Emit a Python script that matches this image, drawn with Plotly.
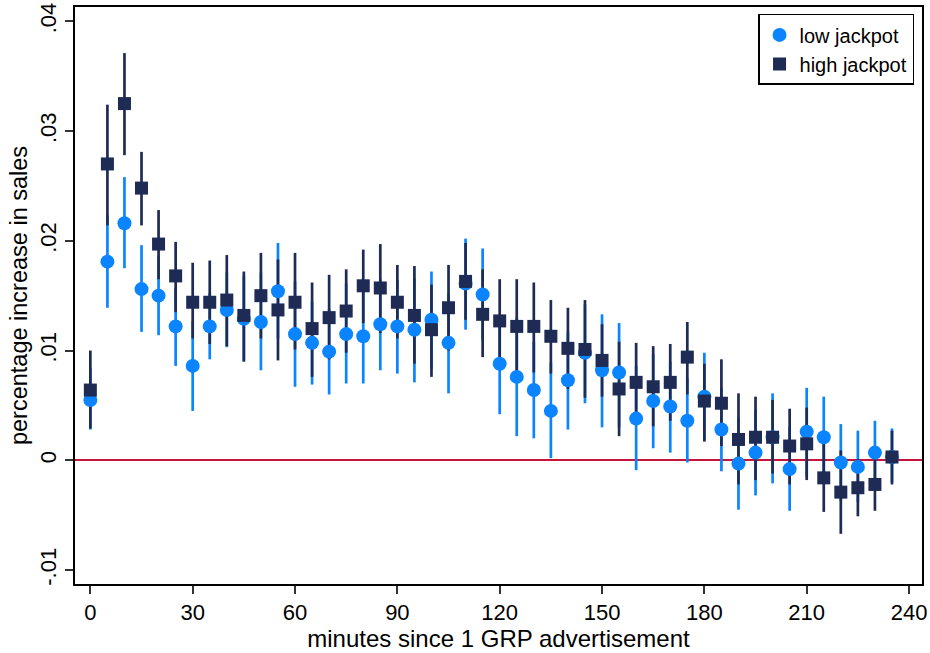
import plotly.graph_objects as go

# Minutes since a 1 GRP TV advertisement
minutes = [0, 5, 10, 15, 20, 25, 30, 35, 40, 45, 50, 55, 60, 65, 70, 75,
           80, 85, 90, 95, 100, 105, 110, 115, 120, 125, 130, 135, 140, 145, 150, 155,
           160, 165, 170, 175, 180, 185, 190, 195, 200, 205, 210, 215, 220, 225, 230, 235]

# Low-jackpot draws: point estimate and 95% confidence bounds
low_est = [0.0055, 0.0181, 0.0216, 0.0156, 0.0150, 0.0122, 0.0086, 0.0122,
           0.0137, 0.0129, 0.0126, 0.0154, 0.0115, 0.0107, 0.0099, 0.0115,
           0.0113, 0.0124, 0.0122, 0.0119, 0.0128, 0.0107, 0.0161, 0.0151,
           0.0088, 0.0076, 0.0064, 0.0045, 0.0073, 0.0098, 0.0082, 0.0080,
           0.0038, 0.0054, 0.0049, 0.0036, 0.0058, 0.0028, -0.0003, 0.0007,
           0.0021, -0.0008, 0.0026, 0.0021, -0.0002, -0.0006, 0.0007, 0.0003]
low_lo = [0.0028, 0.0139, 0.0175, 0.0117, 0.0114, 0.0086, 0.0045, 0.0092,
          0.0103, 0.0090, 0.0082, 0.0111, 0.0067, 0.0069, 0.0060, 0.0070,
          0.0070, 0.0082, 0.0079, 0.0071, 0.0083, 0.0061, 0.0119, 0.0109,
          0.0042, 0.0022, 0.0020, 0.0002, 0.0028, 0.0052, 0.0030, 0.0030,
          -0.0009, 0.0011, 0.0007, -0.0002, 0.0018, -0.0010, -0.0045, -0.0032,
          -0.0021, -0.0046, -0.0015, -0.0016, -0.0037, -0.0038, -0.0022, -0.0020]
low_hi = [0.0084, 0.0223, 0.0258, 0.0196, 0.0186, 0.0157, 0.0127, 0.0152,
          0.0171, 0.0168, 0.0171, 0.0198, 0.0163, 0.0144, 0.0138, 0.0161,
          0.0156, 0.0165, 0.0164, 0.0166, 0.0172, 0.0152, 0.0202, 0.0193,
          0.0132, 0.0130, 0.0108, 0.0089, 0.0117, 0.0142, 0.0133, 0.0125,
          0.0086, 0.0097, 0.0090, 0.0075, 0.0098, 0.0066, 0.0039, 0.0046,
          0.0061, 0.0031, 0.0066, 0.0058, 0.0033, 0.0027, 0.0036, 0.0029]

# High-jackpot draws: point estimate and 95% confidence bounds
high_est = [0.0064, 0.0270, 0.0325, 0.0248, 0.0197, 0.0168, 0.0144, 0.0144,
            0.0146, 0.0132, 0.0150, 0.0137, 0.0144, 0.0120, 0.0130, 0.0136,
            0.0159, 0.0157, 0.0144, 0.0132, 0.0119, 0.0139, 0.0163, 0.0133,
            0.0127, 0.0122, 0.0122, 0.0113, 0.0102, 0.0101, 0.0091, 0.0065,
            0.0071, 0.0067, 0.0071, 0.0094, 0.0054, 0.0052, 0.0019, 0.0021,
            0.0021, 0.0013, 0.0015, -0.0016, -0.0029, -0.0025, -0.0022, 0.0003]
high_lo = [0.0029, 0.0214, 0.0278, 0.0214, 0.0165, 0.0135, 0.0111, 0.0106,
           0.0104, 0.0090, 0.0111, 0.0091, 0.0101, 0.0076, 0.0092, 0.0098,
           0.0125, 0.0116, 0.0111, 0.0088, 0.0076, 0.0100, 0.0128, 0.0094,
           0.0089, 0.0079, 0.0080, 0.0079, 0.0065, 0.0057, 0.0058, 0.0022,
           0.0036, 0.0031, 0.0036, 0.0060, 0.0017, 0.0013, -0.0022, -0.0018,
           -0.0012, -0.0022, -0.0018, -0.0047, -0.0067, -0.0051, -0.0046, -0.0022]
high_hi = [0.0100, 0.0324, 0.0371, 0.0281, 0.0228, 0.0199, 0.0180, 0.0182,
           0.0187, 0.0172, 0.0189, 0.0183, 0.0189, 0.0162, 0.0169, 0.0174,
           0.0192, 0.0197, 0.0178, 0.0177, 0.0160, 0.0178, 0.0198, 0.0174,
           0.0165, 0.0165, 0.0162, 0.0146, 0.0139, 0.0146, 0.0124, 0.0108,
           0.0107, 0.0104, 0.0106, 0.0126, 0.0088, 0.0092, 0.0061, 0.0058,
           0.0055, 0.0047, 0.0048, 0.0021, 0.0009, 0.0001, 0.0002, 0.0027]

x_ticks = [0, 30, 60, 90, 120, 150, 180, 210, 240]
y_ticks = [-0.01, 0, 0.01, 0.02, 0.03, 0.04]
y_ticktext = ["-.01", "0", ".01", ".02", ".03", ".04"]

LOW_COLOR = "#0A85FF"
HIGH_COLOR = "#1E2B54"
FONT = "Liberation Sans, Arial, sans-serif"


def spikes(est, lo, hi, color):
    # Confidence interval spikes only (markers hidden), no caps
    return go.Scatter(
        x=minutes, y=est, mode="markers",
        marker=dict(size=1, opacity=0),
        error_y=dict(type="data", symmetric=False,
                     array=[h - e for h, e in zip(hi, est)],
                     arrayminus=[e - l for e, l in zip(est, lo)],
                     color=color, thickness=2.7, width=0),
        showlegend=False, hoverinfo="skip",
    )


fig = go.Figure()
fig.add_trace(spikes(low_est, low_lo, low_hi, LOW_COLOR))
fig.add_trace(spikes(high_est, high_lo, high_hi, HIGH_COLOR))
fig.add_trace(go.Scatter(
    x=minutes, y=low_est, mode="markers", name="low jackpot",
    marker=dict(symbol="circle", size=14, color=LOW_COLOR, line=dict(width=0)),
))
fig.add_trace(go.Scatter(
    x=minutes, y=high_est, mode="markers", name="high jackpot",
    marker=dict(symbol="square", size=13, color=HIGH_COLOR, line=dict(width=0)),
))

fig.update_layout(
    width=930, height=653,
    margin=dict(l=75, r=8, t=3, b=69),
    paper_bgcolor="white", plot_bgcolor="white",
    font=dict(family=FONT, size=22, color="black"),
    legend=dict(
        x=0.9906, y=0.988, xanchor="right", yanchor="top",
        bgcolor="white", bordercolor="black", borderwidth=1.5,
        font=dict(family=FONT, size=20, color="black"),
        tracegroupgap=0, itemsizing="trace", itemwidth=30,
    ),
    xaxis=dict(
        range=[-4.5, 243.8], tickmode="array", tickvals=x_ticks,
        ticks="outside", ticklen=8, tickwidth=1.5, tickcolor="#333333",
        showline=True, linecolor="black", linewidth=2, mirror=True,
        showgrid=False, zeroline=False,
        title=dict(text="minutes since 1 GRP advertisement", standoff=4,
                   font=dict(family=FONT, size=24, color="black")),
        tickfont=dict(family=FONT, size=22, color="black"),
    ),
    yaxis=dict(
        range=[-0.01127, 0.0413], tickmode="array", tickvals=y_ticks,
        ticktext=y_ticktext, tickangle=-90,
        ticks="outside", ticklen=8, tickwidth=1.5, tickcolor="#333333",
        showline=True, linecolor="black", linewidth=2, mirror=True,
        showgrid=False,
        zeroline=True, zerolinecolor="#C8143C", zerolinewidth=2,
        title=dict(text="percentage increase in sales", standoff=2,
                   font=dict(family=FONT, size=23.5, color="black")),
        tickfont=dict(family=FONT, size=22, color="black"),
    ),
)

fig.write_html("out.html")
